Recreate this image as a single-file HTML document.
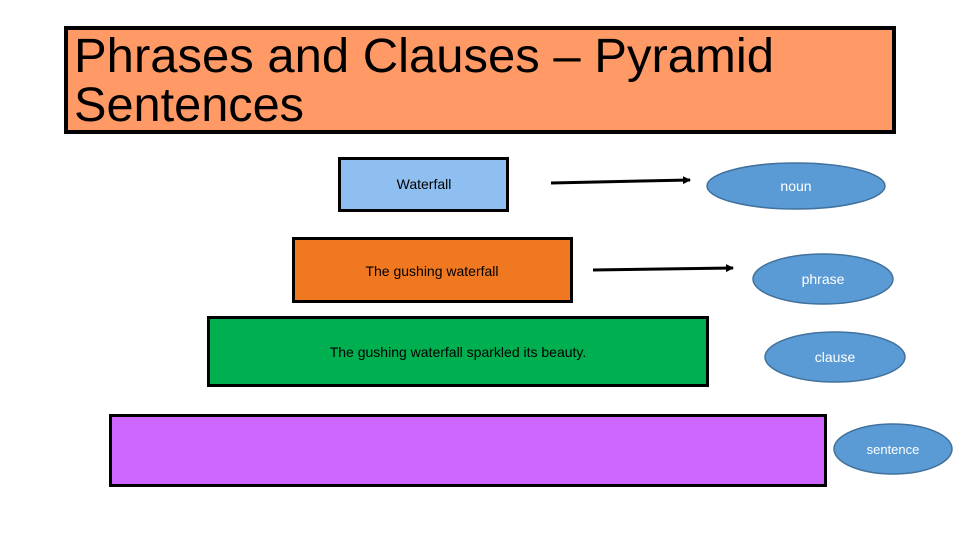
<!DOCTYPE html>
<html><head><meta charset="utf-8"><style>
html,body{margin:0;padding:0;background:#fff;width:960px;height:540px;overflow:hidden}
svg{display:block}
text{font-family:"Liberation Sans","DejaVu Sans",sans-serif}
</style></head><body>
<svg width="960" height="540" viewBox="0 0 960 540" xmlns="http://www.w3.org/2000/svg">
<defs><marker id="ah" markerWidth="8" markerHeight="8" refX="7" refY="4" orient="auto" markerUnits="userSpaceOnUse"><path d="M0,0 L8,4 L0,8 z" fill="#000"/></marker></defs>
<rect x="66" y="28" width="828" height="104" fill="#FF9A66" stroke="#000" stroke-width="4"/>
<text x="74" y="72" font-size="48" fill="#000" textLength="700" lengthAdjust="spacingAndGlyphs">Phrases and Clauses – Pyramid</text>
<text x="74" y="121" font-size="48" fill="#000" textLength="230" lengthAdjust="spacingAndGlyphs">Sentences</text>

<rect x="339.5" y="158.5" width="168" height="52" fill="#8FBFF0" stroke="#000" stroke-width="3"/>
<text x="424" y="189" font-size="14" text-anchor="middle">Waterfall</text>
<line x1="551" y1="183" x2="690" y2="180" stroke="#000" stroke-width="3" marker-end="url(#ah)"/>
<ellipse cx="796" cy="186" rx="89" ry="23" fill="#5B9BD5" stroke="#41719C" stroke-width="1.5"/>
<text x="796" y="191" font-size="14" fill="#fff" text-anchor="middle">noun</text>

<rect x="293.5" y="238.5" width="278" height="63" fill="#F07820" stroke="#000" stroke-width="3"/>
<text x="432" y="276" font-size="14" text-anchor="middle">The gushing waterfall</text>
<line x1="593" y1="270" x2="733" y2="268" stroke="#000" stroke-width="3" marker-end="url(#ah)"/>
<ellipse cx="823" cy="279" rx="70" ry="25" fill="#5B9BD5" stroke="#41719C" stroke-width="1.5"/>
<text x="823" y="284" font-size="14" fill="#fff" text-anchor="middle">phrase</text>

<rect x="208.5" y="317.5" width="499" height="68" fill="#00B050" stroke="#000" stroke-width="3"/>
<text x="458" y="357" font-size="14" text-anchor="middle">The gushing waterfall sparkled its beauty.</text>
<ellipse cx="835" cy="357" rx="70" ry="25" fill="#5B9BD5" stroke="#41719C" stroke-width="1.5"/>
<text x="835" y="362" font-size="14" fill="#fff" text-anchor="middle">clause</text>

<rect x="110.5" y="415.5" width="715" height="70" fill="#CC66FF" stroke="#000" stroke-width="3"/>
<ellipse cx="893" cy="449" rx="59" ry="25" fill="#5B9BD5" stroke="#41719C" stroke-width="1.5"/>
<text x="893" y="454" font-size="13" fill="#fff" text-anchor="middle">sentence</text>
</svg>
</body></html>
